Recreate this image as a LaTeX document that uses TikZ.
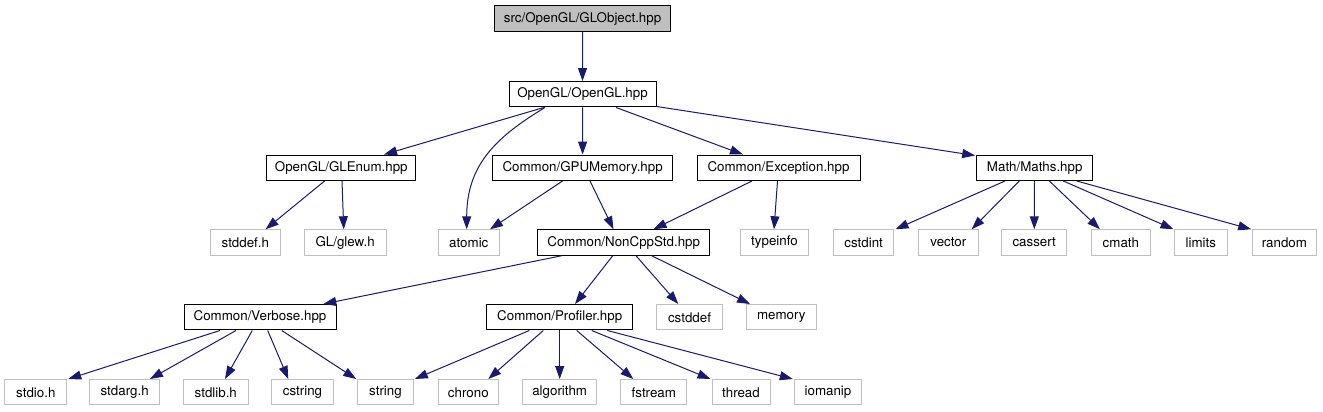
\documentclass[tikz,border=0pt]{standalone}
\usepackage{fontspec}
\setmainfont{TeX Gyre Heros}
\usetikzlibrary{arrows.meta,calc}
\definecolor{edgeblue}{HTML}{191970}
\definecolor{grey75}{HTML}{BFBFBF}
\begin{document}
\begin{tikzpicture}[x=0.75pt,y=-0.75pt,
  box/.style={draw=black,line width=0.75pt,minimum height=19.1pt,inner sep=0pt,font=\fontsize{10pt}{11pt}\selectfont,fill=white},
  ext/.style={box,draw=grey75},
  root/.style={box,fill=grey75},
  edge/.style={draw=edgeblue,line width=0.75pt,-{Triangle[length=9.75pt,width=6.75pt]}}]
\useasboundingbox (0,0) rectangle (1323,411);
% row 0
\node[root,minimum width=131.9pt] (globject) at (582.55,18.5) {src/OpenGL/GLObject.hpp};
% row 1
\node[box,minimum width=110.25pt] (opengl) at (582.5,94.25) {OpenGL/OpenGL.hpp};
% row 2
\node[box,minimum width=112.1pt] (glenum) at (341.25,167.75) {OpenGL/GLEnum.hpp};
\node[box,minimum width=135.3pt] (gpumem) at (582.6,167.75) {Common/GPUMemory.hpp};
\node[box,minimum width=122.25pt] (exception) at (778.5,167.75) {Common/Exception.hpp};
\node[box,minimum width=87pt] (maths) at (1034.7,167.75) {Math/Maths.hpp};
% row 3
\node[ext,minimum width=52pt] (stddef) at (245.35,242.5) {stddef.h};
\node[ext,minimum width=61.3pt] (glew) at (345.15,242.5) {GL/glew.h};
\node[ext,minimum width=45.75pt] (atomic) at (468.8,242.5) {atomic};
\node[box,minimum width=129pt] (noncpp) at (623.7,242.5) {Common/NonCppStd.hpp};
\node[ext,minimum width=50.85pt] (typeinfo) at (774.5,242.5) {typeinfo};
\node[ext,minimum width=45.5pt] (cstdint) at (863.65,242.5) {cstdint};
\node[ext,minimum width=45pt] (vector) at (948.3,242.5) {vector};
\node[ext,minimum width=48.75pt] (cassert) at (1034.2,242.5) {cassert};
\node[ext,minimum width=43.7pt] (cmath) at (1120.85,242.5) {cmath};
\node[ext,minimum width=39.75pt] (limits) at (1200.8,242.5) {limits};
\node[ext,minimum width=47.5pt] (random) at (1284.35,242.5) {random};
% row 4
\node[box,minimum width=114pt] (verbose) at (260,317.25) {Common/Verbose.hpp};
\node[box,minimum width=109.5pt] (profiler) at (559.7,317.25) {Common/Profiler.hpp};
\node[ext,minimum width=49.2pt] (cstddef) at (689.5,317.25) {cstddef};
\node[ext,minimum width=52pt] (memory) at (781.35,317.25) {memory};
% row 5
\node[ext,minimum width=46.3pt] (stdio) at (35.85,392.25) {stdio.h};
\node[ext,minimum width=52pt] (stdarg) at (124.65,392.25) {stdarg.h};
\node[ext,minimum width=48.75pt] (stdlib) at (215.8,392.25) {stdlib.h};
\node[ext,minimum width=46.2pt] (cstring) at (302.5,392.25) {cstring};
\node[ext,minimum width=41.7pt] (string) at (385.5,392.25) {string};
\node[ext,minimum width=45pt] (chrono) at (468.3,392.25) {chrono};
\node[ext,minimum width=55.5pt] (algorithm) at (559.7,392.25) {algorithm};
\node[ext,minimum width=49.3pt] (fstream) at (653.85,392.25) {fstream};
\node[ext,minimum width=43.5pt] (thread) at (741,392.25) {thread};
\node[ext,minimum width=50.55pt] (iomanip) at (828,392.25) {iomanip};
% edges level 0-1
\draw[edge] (globject.south) -- (opengl.north);
\draw[edge] ($(opengl.south)+(-38.7,0)$) -- ($(glenum.north)+(42.75,0)$);
\draw[edge] ($(opengl.south)+(-37.5,0)$) .. controls (496,137) and (466.7,165) .. ($(atomic.north)+(-2.1,0)$);
\draw[edge] (opengl.south) -- (gpumem.north);
\draw[edge] ($(opengl.south)+(33.5,0)$) -- ($(exception.north)+(-35.5,0)$);
\draw[edge] ($(opengl.south east)+(0,-1)$) -- ($(maths.north west)+(-1,1)$);
% level 2-3
\draw[edge] ($(glenum.south)+(-16.65,0)$) -- ($(stddef.north)+(20.25,0)$);
\draw[edge] ($(glenum.south)+(0.75,0)$) -- ($(glew.north)+(-1.4,0)$);
\draw[edge] ($(gpumem.south)+(-20.1,0)$) -- ($(atomic.north)+(21.2,0)$);
\draw[edge] ($(gpumem.south)+(7.4,0)$) -- ($(noncpp.north)+(-10.2,0)$);
\draw[edge] ($(exception.south)+(-26.5,0)$) -- ($(noncpp.north)+(29.8,0)$);
\draw[edge] ($(exception.south)+(-1,0)$) -- ($(typeinfo.north)+(-0.5,0)$);
\draw[edge] ($(maths.south)+(-29.7,0)$) -- ($(cstdint.north east)+(1,0)$);
\draw[edge] ($(maths.south)+(-15.4,0)$) -- ($(vector.north)+(23.4,0)$);
\draw[edge] ($(maths.south)+(-0.4,0)$) -- ($(cassert.north)+(0.1,0)$);
\draw[edge] ($(maths.south)+(14.6,0)$) -- ($(cmath.north)+(-20.85,0)$);
\draw[edge] ($(maths.south)+(28.6,0)$) -- ($(limits.north)+(-27.3,0)$);
\draw[edge] ($(maths.south)+(42,0)$) -- ($(random.north west)+(-1,0)$);
% level 3-4
\draw[edge] ($(noncpp.south)+(-62,0)$) -- ($(verbose.north)+(63.3,0)$);
\draw[edge] ($(noncpp.south)+(-11,0)$) -- ($(profiler.north)+(15.3,0)$);
\draw[edge] ($(noncpp.south)+(12.3,0)$) -- ($(cstddef.north)+(-11.2,0)$);
\draw[edge] ($(noncpp.south)+(28,0)$) -- ($(memory.north)+(-31.35,0)$);
% level 4-5
\draw[edge] ($(verbose.south)+(-40,0)$) -- ($(stdio.north east)+(1,0)$);
\draw[edge] ($(verbose.south)+(-24,0)$) -- ($(stdarg.north)+(25.35,0)$);
\draw[edge] ($(verbose.south)+(-7.7,0)$) -- ($(stdlib.north)+(9.2,0)$);
\draw[edge] ($(verbose.south)+(7.7,0)$) -- ($(cstring.north)+(-14.2,0)$);
\draw[edge] ($(verbose.south)+(21.7,0)$) -- ($(string.north west)+(-1,0)$);
\draw[edge] ($(profiler.south)+(-30.4,0)$) -- ($(string.north east)+(1,0)$);
\draw[edge] ($(profiler.south)+(-16.4,0)$) -- ($(chrono.north)+(20,0)$);
\draw[edge] (profiler.south) -- (algorithm.north);
\draw[edge] ($(profiler.south)+(17,0)$) -- ($(fstream.north)+(-20.55,0)$);
\draw[edge] ($(profiler.south)+(32,0)$) -- ($(thread.north west)+(-1,0)$);
\draw[edge] ($(profiler.south)+(47.6,0)$) -- ($(iomanip.north west)+(-1,0)$);
\end{tikzpicture}
\end{document}
